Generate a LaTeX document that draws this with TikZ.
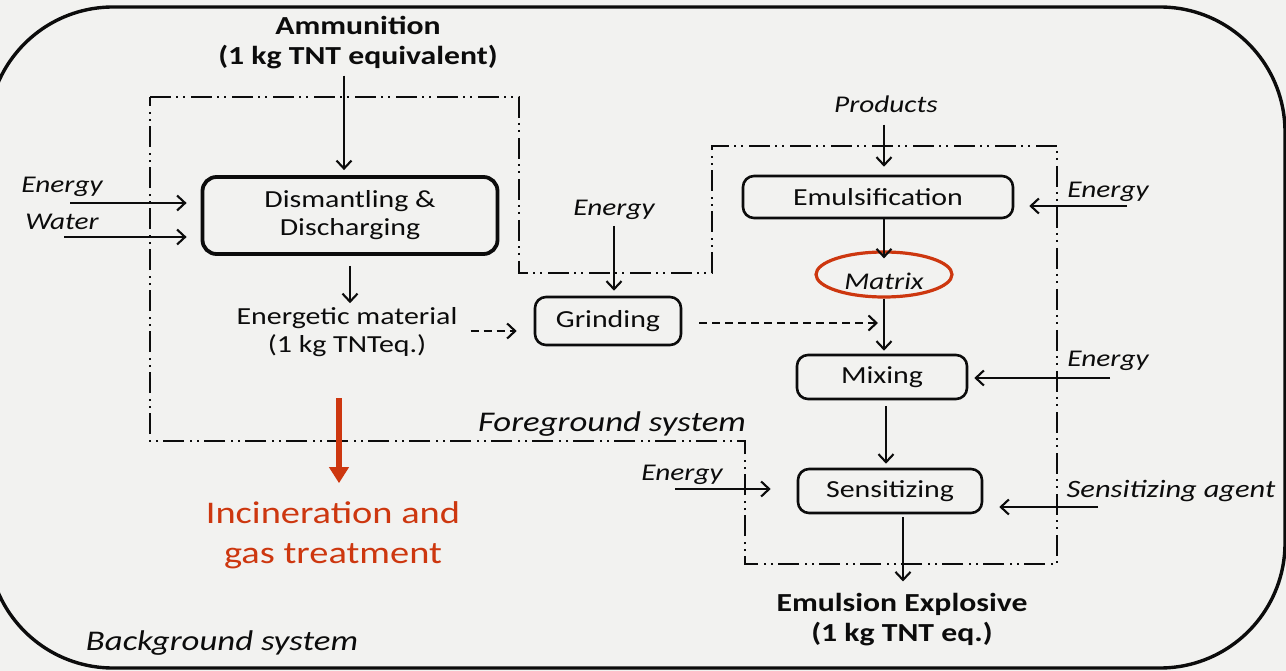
\documentclass[tikz,border=0pt]{standalone}
\usepackage{fontspec}
\setmainfont{Carlito}[FakeStretch=1.22]
\usetikzlibrary{arrows.meta,shapes.geometric}
\definecolor{paper}{RGB}{242,242,240}
\definecolor{ink}{RGB}{12,12,12}
\definecolor{flame}{RGB}{205,55,15}
\tikzset{
  proc/.style={draw=ink, line width=2.6pt, rounded corners=11pt, inner sep=0pt,
    align=center, text=ink, font=\fontsize{24.5}{28}\selectfont},
  plain/.style={inner sep=0pt, align=center, text=ink, font=\fontsize{24.5}{28}\selectfont},
  lbl/.style={inner sep=0pt, align=center, text=ink, font=\fontsize{24}{28}\selectfont\itshape},
  sysname/.style={lbl, font=\fontsize{28.5}{32}\selectfont\itshape},
  head/.style={inner sep=0pt, align=center, text=ink, font=\fontsize{26}{30}\selectfont\bfseries},
  flow/.style={draw=ink, line width=2.1pt, -{Straight Barb[length=8pt,width=15pt]}},
  dflow/.style={flow, dash pattern=on 8pt off 5pt},
  fgline/.style={draw=ink, line width=2.4pt,
    dash pattern=on 21pt off 5pt on 2pt off 5pt on 2pt off 6pt},
  ring/.style={ellipse, draw=flame, line width=3.2pt, inner sep=0pt,
    minimum width=136pt, minimum height=45pt},
  hot/.style={draw=flame, line width=6pt, -{Triangle[length=16pt,width=19pt]}},
}
\begin{document}
\begin{tikzpicture}[x=1pt,y=-1pt]
\useasboundingbox (0,0) rectangle (1286,671);
\clip (0,0) rectangle (1286,671);
\fill[paper] (0,0) rectangle (1286,671);

% background system frame
\draw[ink, line width=3.4pt, rounded corners=125pt] (-12,7) rectangle (1285,668);

% foreground system boundary
\draw[fgline] (150,97) -- (519,97) -- (519,273) -- (712,273) -- (712,146)
  -- (1057,146) -- (1057,564) -- (745,564) -- (745,441) -- (150,441) -- cycle;

% process boxes
\node[proc, line width=3.8pt, rounded corners=14pt, minimum width=295pt, minimum height=77pt]
  (dis) at (350,215.5) {Dismantling \&\\Discharging};
\node[proc, minimum width=146pt, minimum height=48pt] (grd) at (608,321) {Grinding};
\node[proc, minimum width=270pt, minimum height=42pt] (emu) at (878,197) {Emulsification};
\node[ring] (mat) at (884,274.5) {};
\node[lbl] (matlbl) at (884,281) {Matrix};
\node[proc, minimum width=170pt, minimum height=44pt] (mix) at (882,377) {Mixing};
\node[proc, minimum width=184pt, minimum height=44pt] (sen) at (890,491) {Sensitizing};

% streams and labels
\node[head] (ammo) at (358,43) {Ammunition\\(1 kg TNT equivalent)};
\node[plain] (enm) at (347,332) {Energetic material\\(1 kg TNTeq.)};
\node[head] (ee) at (902,620) {Emulsion Explosive\\(1 kg TNT eq.)};
\node[lbl] (prod) at (886,104) {Products};
\node[lbl] (enA) at (62,187) {Energy};
\node[lbl] (wat) at (62,222) {Water};
\node[lbl] (enB) at (614,210) {Energy};
\node[lbl] (enC) at (1108,192) {Energy};
\node[lbl] (enD) at (1108,361) {Energy};
\node[lbl] (enE) at (682,475) {Energy};
\node[lbl, font=\fontsize{25}{28}\selectfont\itshape] (sag) at (1171,491) {Sensitizing agent};
\node[sysname] (fg) at (612,424) {Foreground system};
\node[sysname] (bg) at (222,643) {Background system};
\node[inner sep=0pt, align=center, text=flame, font=\fontsize{31.5}{40}\selectfont]
  (inc) at (333,535) {Incineration and\\gas treatment};

% free ends of the inputs
\coordinate (inA) at (70,203);
\coordinate (inW) at (64,237);
\coordinate (inC) at (1127,206);
\coordinate (inD) at (1110,378);
\coordinate (inE) at (675,489);
\coordinate (inS) at (1098,507);
\coordinate (hotStart) at (339,398);

% flows
\draw[flow, shorten <=6pt, shorten >=5pt]
  ([xshift=-6pt]dis.north |- ammo.south) -- ([xshift=-6pt]dis.north);
\draw[flow, shorten >=14pt] (inA) -- (inA -| dis.west);
\draw[flow, shorten >=14pt] (inW) -- (inW -| dis.west);
\draw[flow, shorten <=10pt, shorten >=4pt] (dis.south) -- (dis.south |- enm.north);
\draw[dflow, shorten <=13pt, shorten >=17pt] (enm.east |- 0,331) -- (grd.west |- 0,331);
\draw[flow, shorten <=6pt, shorten >=5pt] (enB.south) -- (enB.south |- grd.north);
\draw[dflow, shorten <=17pt, shorten >=6pt] (grd.east |- 0,323) -- (mat.south |- 0,323);
\draw[flow, shorten <=12pt, shorten >=8pt] (prod.south -| mat.north) -- (emu.north -| mat.north);
\draw[flow, shorten >=15pt] (inC) -- (inC -| emu.east);
\draw[flow] (emu.south -| mat.north) -- ([yshift=-8pt]mat.north);
\draw[flow, shorten >=3pt] (mat.south) -- (mat.south |- mix.north);
\draw[flow, shorten >=6pt] (inD) -- (inD -| mix.east);
\draw[flow, shorten <=6pt, shorten >=4pt]
  ([xshift=4pt]mix.south) -- ([xshift=4pt]mix.south |- sen.north);
\draw[flow, shorten >=26pt] (inE) -- (inE -| sen.west);
\draw[flow, shorten >=16pt] (inS) -- (inS -| sen.east);
\draw[flow, shorten <=3pt, shorten >=12pt]
  ([xshift=13pt]sen.south) -- ([xshift=13pt]sen.south |- ee.north);
\draw[hot, shorten >=18pt] (hotStart) -- (hotStart |- inc.north);
\end{tikzpicture}
\end{document}
